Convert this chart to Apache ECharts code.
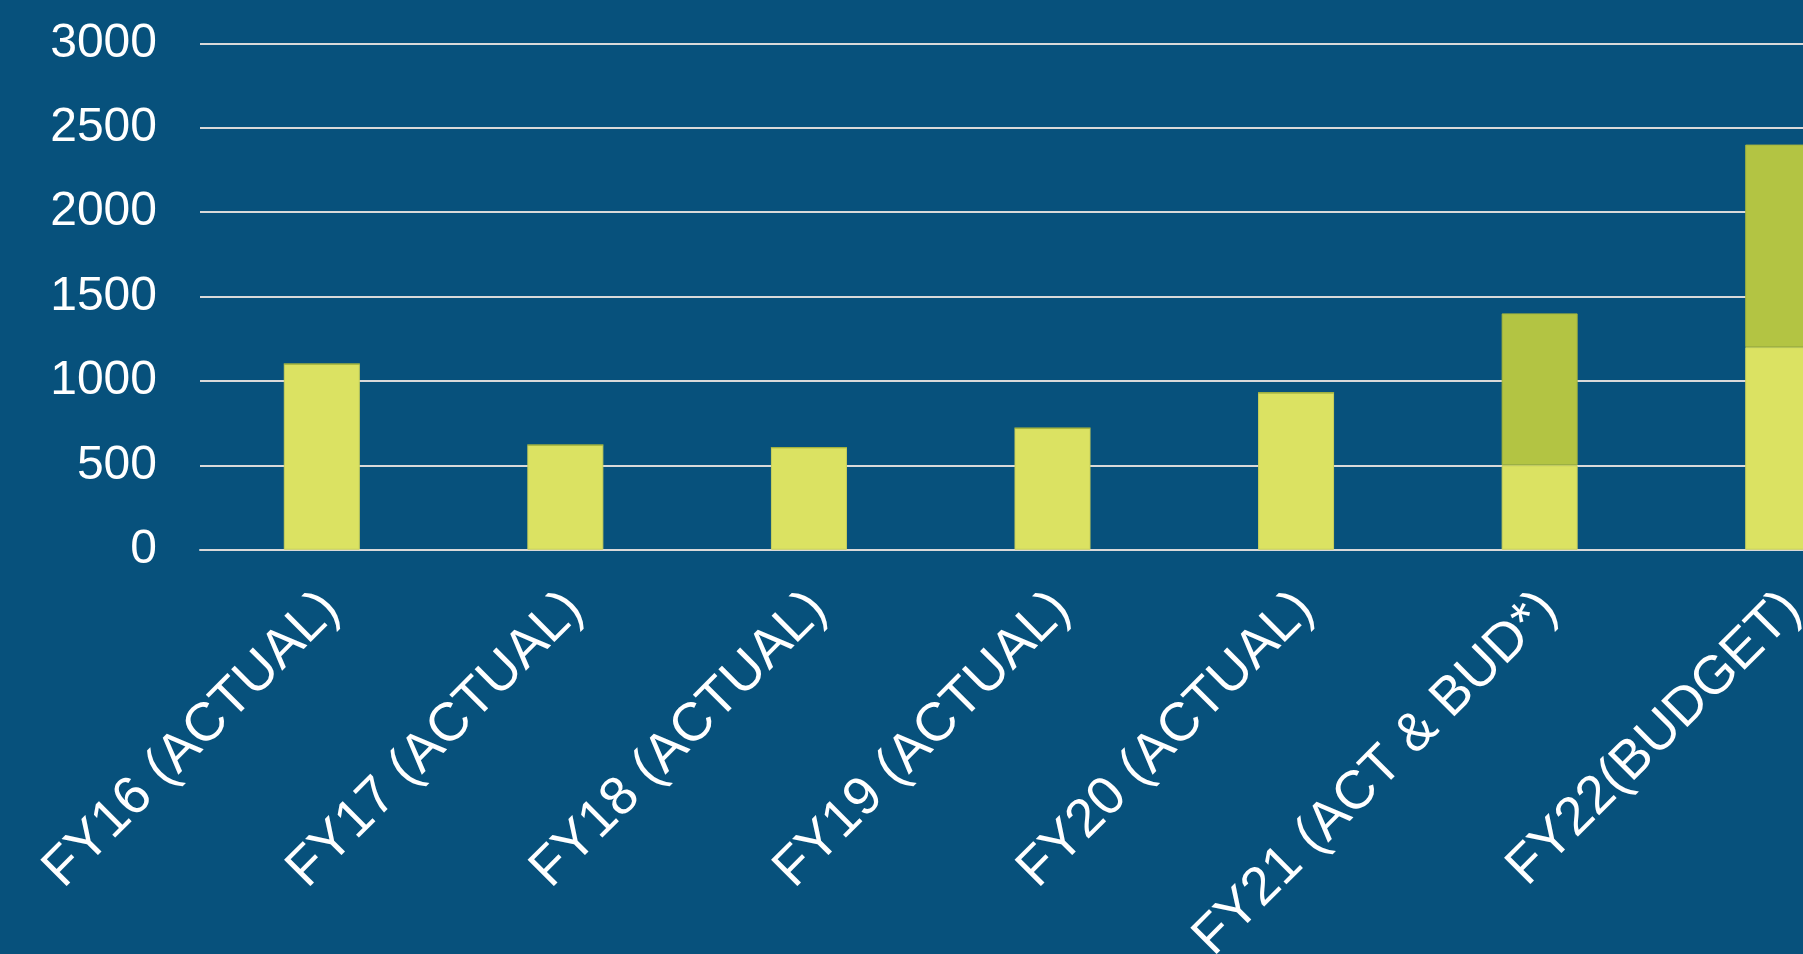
<!DOCTYPE html>
<html>
<head>
<meta charset="utf-8">
<style>
  html, body { margin: 0; padding: 0; background: #07517C; overflow: hidden; }
  #chart { width: 1905px; height: 954px; }
</style>
<script src="https://cdn.jsdelivr.net/npm/echarts@6/dist/echarts.min.js"></script>
</head>
<body>
<div id="chart"></div>
<script>
// Fiscal-year spend: actual portion and budgeted portion, stacked
const categories = [
  'FY16 (ACTUAL)', 'FY17 (ACTUAL)', 'FY18 (ACTUAL)', 'FY19 (ACTUAL)',
  'FY20 (ACTUAL)', 'FY21 (ACT & BUD*)', 'FY22(BUDGET)'
];
const actualValues = [1100, 620, 605, 720, 930, 500, 1200];
const budgetValues = [0, 0, 0, 0, 0, 900, 1200];
const yTicks = { min: 0, max: 3000, step: 500 };

const chart = echarts.init(document.getElementById('chart'), null, { renderer: 'canvas' });

const font = '"Liberation Sans", Arial, sans-serif';

chart.setOption({
  backgroundColor: '#07517C',
  animation: false,
  grid: {
    left: 200, right: 0, top: 43.3, height: 506.4,
    containLabel: false,
    outerBoundsMode: 'none'
  },
  xAxis: {
    type: 'category',
    data: categories,
    axisLine: { show: true, lineStyle: { color: '#D9D9D9', width: 2 } },
    axisTick: { show: false },
    axisLabel: {
      interval: 0,
      rotate: 45,
      color: '#FFFFFF',
      fontSize: 54,
      fontFamily: font,
      margin: 42,
      formatter: (v) => '{cat|' + v + '}',
      rich: {
        cat: {
          color: '#FFFFFF',
          fontSize: 54,
          fontFamily: font,
          padding: [26, 0, 0, 0]
        }
      }
    }
  },
  yAxis: {
    type: 'value',
    min: yTicks.min,
    max: yTicks.max,
    interval: yTicks.step,
    axisLine: { show: false },
    axisTick: { show: false },
    splitLine: { show: true, lineStyle: { color: '#D9D9D9', width: 2 } },
    axisLabel: {
      color: '#FFFFFF',
      fontSize: 48,
      fontFamily: font,
      margin: 43,
      formatter: (v) => String(v)
    }
  },
  series: [
    {
      name: 'Actual',
      type: 'bar',
      stack: 'total',
      barWidth: 76,
      data: actualValues,
      itemStyle: { color: '#DBE262', borderColor: '#C9D05A', borderWidth: 1 }
    },
    {
      name: 'Budget',
      type: 'bar',
      stack: 'total',
      barWidth: 76,
      data: budgetValues,
      itemStyle: { color: '#B3C443', borderColor: '#A4B43E', borderWidth: 1 }
    }
  ]
});
</script>
</body>
</html>
